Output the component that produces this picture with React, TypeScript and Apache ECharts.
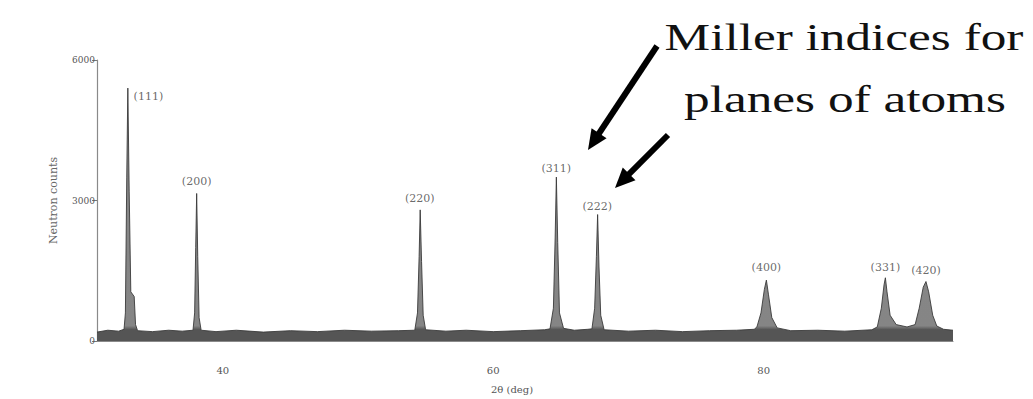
import React, { useEffect, useRef } from "react";
import * as echarts from "echarts";

// Diffraction profile: 2θ (deg) and neutron counts
const profileAngles = [
  30.7, 31.5, 32.3, 32.7, 32.8, 32.9, 32.98, 33.08, 33.2, 33.45, 33.55, 33.7,
  34.8, 36.0, 37.0, 37.8, 37.92, 38.0, 38.07, 38.15, 38.25, 38.4,
  39.5, 41.0, 43.0, 45.0, 47.0, 49.0, 51.0, 53.0,
  54.2, 54.4, 54.52, 54.6, 54.7, 54.82, 55.0,
  56.5, 58.0, 60.0, 62.0, 63.8,
  64.2, 64.45, 64.58, 64.67, 64.77, 64.9, 65.2,
  66.0, 67.0,
  67.3, 67.5, 67.63, 67.72, 67.82, 67.95, 68.2,
  70.0, 72.0, 74.0, 76.0, 78.0, 79.3,
  79.5, 79.8, 80.05, 80.2, 80.35, 80.6, 81.0,
  82.0, 84.0, 86.0, 88.0,
  88.4, 88.7, 88.9, 89.0, 89.12, 89.35, 89.8, 90.6,
  91.2, 91.5, 91.8, 92.0, 92.2, 92.5, 92.8, 93.3, 94.0,
];
const profileCounts = [
  190, 230, 210, 250, 600, 3500, 5400, 3200, 1050, 950, 350, 220,
  200, 230, 210, 230, 600, 2000, 3150, 1800, 500, 230,
  200, 230, 190, 220, 200, 230, 210, 220,
  230, 600, 1800, 2800, 1700, 550, 240,
  210, 230, 200, 220, 240,
  260, 700, 2200, 3500, 2100, 600, 270,
  230, 250,
  260, 700, 1800, 2700, 1600, 550, 240,
  210, 230, 200, 220, 230, 250,
  300, 600, 1100, 1300, 1000, 500, 280,
  220, 230, 210, 240,
  300, 700, 1200, 1350, 1050, 550, 350, 300,
  350, 700, 1150, 1270, 1050, 550, 320, 250, 230,
];

// Miller-index labels and where they sit (2θ, counts)
const peakLabels = ["(111)", "(200)", "(220)", "(311)", "(222)", "(400)", "(331)", "(420)"];
const labelAngles = [34.5, 38.07, 54.57, 64.67, 67.7, 80.2, 89.0, 92.0];
const labelCounts = [5230, 3400, 3040, 3690, 2875, 1580, 1580, 1500];

const yTicks = [0, 3000, 6000];
const xTickValues = [40, 60, 80];

const annotationLines = ["Miller indices for", "planes of atoms"];

function arrow(x1: number, y1: number, x2: number, y2: number, head: number, half: number, width: number) {
  const dx = x2 - x1;
  const dy = y2 - y1;
  const len = Math.sqrt(dx * dx + dy * dy);
  const ux = dx / len;
  const uy = dy / len;
  const bx = x2 - ux * head;
  const by = y2 - uy * head;
  const px = -uy;
  const py = ux;
  return [
    {
      type: "line",
      shape: { x1, y1, x2: bx + ux * 2, y2: by + uy * 2 },
      style: { stroke: "#000", lineWidth: width },
    },
    {
      type: "polygon",
      shape: {
        points: [
          [x2, y2],
          [bx + px * half, by + py * half],
          [bx - px * half, by - py * half],
        ],
      },
      style: { fill: "#000" },
    },
  ];
}

export default function App() {
  const ref = useRef<HTMLDivElement>(null);

  useEffect(() => {
    if (!ref.current) return;
    const chart = echarts.init(ref.current, null, { renderer: "svg" });
    const profile = profileAngles.map((a, i) => [a, profileCounts[i]]);
    const labelData = peakLabels.map((n, i) => ({ name: n, value: [labelAngles[i], labelCounts[i]] }));
    const serif = "DejaVu Serif";

    chart.setOption({
      animation: false,
      backgroundColor: "#ffffff",
      grid: { left: 97, right: 80, top: 60, bottom: 51 },
      xAxis: {
        type: "value",
        min: 30.7,
        max: 94,
        offset: 20,
        name: "2θ (deg)",
        nameLocation: "middle",
        nameGap: 23,
        nameTextStyle: { fontFamily: serif, fontSize: 10, color: "#555", padding: [0, 26, 0, 0] },
        axisLine: { show: true, lineStyle: { color: "#8a8a8a", width: 1.2 } },
        axisTick: { show: true, inside: true, length: 5, customValues: xTickValues, lineStyle: { color: "#777" } },
        axisLabel: { customValues: xTickValues, fontFamily: serif, fontSize: 10, color: "#555", margin: 4 },
        splitLine: { show: false },
      },
      yAxis: {
        type: "value",
        min: 0,
        max: 6000,
        interval: 3000,
        name: "Neutron counts",
        nameLocation: "middle",
        nameGap: 38,
        nameTextStyle: { fontFamily: serif, fontSize: 11, color: "#666" },
        axisLine: { show: true, lineStyle: { color: "#8a8a8a", width: 1.2 } },
        axisTick: { show: true, length: 5, lineStyle: { color: "#777" } },
        axisLabel: {
          fontFamily: serif,
          fontSize: 9,
          color: "#555",
          margin: 2,
          formatter: (v: number) => (yTicks.includes(v) ? String(v) : ""),
        },
        splitLine: { show: false },
      },
      series: [
        {
          type: "line",
          data: profile,
          symbol: "none",
          lineStyle: { color: "#3a3a3a", width: 0.9 },
          areaStyle: {
            opacity: 1,
            color: new echarts.graphic.LinearGradient(0, 0, 0, 1, [
              { offset: 0, color: "#888888" },
              { offset: 0.94, color: "#858585" },
              { offset: 0.955, color: "#555555" },
              { offset: 1, color: "#555555" },
            ]),
          },
          z: 2,
        },
        {
          type: "scatter",
          data: labelData,
          symbolSize: 1,
          itemStyle: { color: "rgba(0,0,0,0)" },
          label: {
            show: true,
            position: "inside",
            formatter: "{b}",
            fontFamily: serif,
            fontSize: 11,
            color: "#444",
          },
          z: 3,
        },
      ],
      graphic: [
        {
          type: "text",
          x: 844,
          y: 37,
          scaleX: 1.35,
          style: {
            text: annotationLines[0],
            fontFamily: "Liberation Serif",
            fontSize: 38,
            fill: "#111",
            textAlign: "center",
            textVerticalAlign: "middle",
          },
        },
        {
          type: "text",
          x: 845,
          y: 99,
          scaleX: 1.35,
          style: {
            text: annotationLines[1],
            fontFamily: "Liberation Serif",
            fontSize: 38,
            fill: "#111",
            textAlign: "center",
            textVerticalAlign: "middle",
          },
        },
        ...arrow(657, 46, 588, 150, 20, 9, 6),
        ...arrow(668, 135, 615, 188, 20, 9, 6),
      ],
    });
    return () => chart.dispose();
  }, []);

  return (
    <div
      ref={ref}
      style={{ position: "absolute", left: 0, top: 0, width: 1033, height: 399, background: "#fff" }}
    />
  );
}
